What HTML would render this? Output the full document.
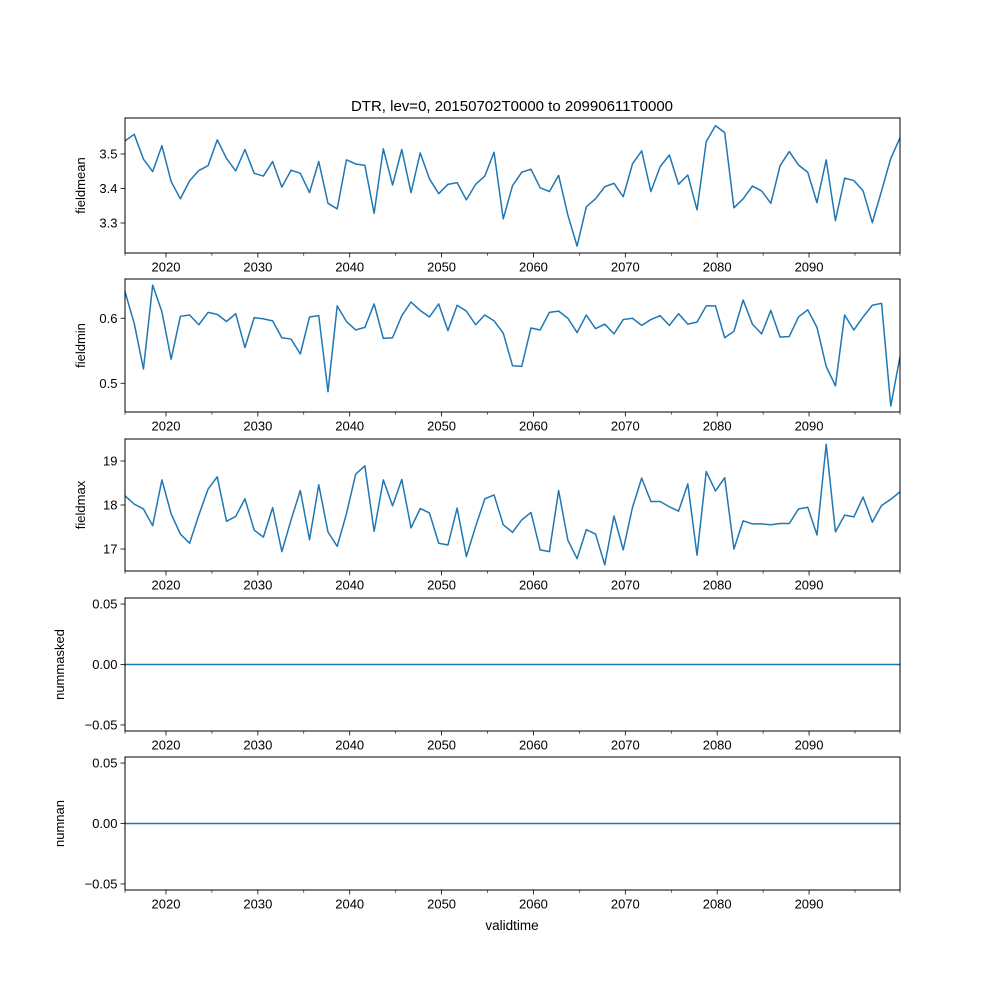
<!DOCTYPE html>
<html><head><meta charset="utf-8"><style>
body{margin:0;background:#fff}
svg text{font-family:"Liberation Sans","DejaVu Sans",sans-serif;font-size:13px;fill:#000}
</style></head><body>
<svg id="fig" width="1000" height="1000" xmlns="http://www.w3.org/2000/svg">
<rect width="1000" height="1000" fill="#fff"/>
<text x="512" y="111" text-anchor="middle" style="font-size:15px">DTR, lev=0, 20150702T0000 to 20990611T0000</text>
<text x="512" y="930" text-anchor="middle" style="font-size:13.5px">validtime</text>
</svg>
<script>
const fieldmean=[3.538,3.557,3.485,3.449,3.524,3.420,3.370,3.422,3.452,3.466,3.541,3.487,3.451,3.513,3.444,3.436,3.478,3.404,3.453,3.444,3.388,3.478,3.357,3.341,3.483,3.471,3.467,3.328,3.515,3.410,3.513,3.388,3.503,3.428,3.385,3.412,3.417,3.367,3.412,3.436,3.505,3.312,3.408,
3.447,3.456,3.402,3.391,3.438,3.323,3.233,3.347,3.370,3.405,3.415,3.376,3.471,3.509,3.391,3.463,3.497,3.412,3.439,3.338,3.536,3.582,3.562,3.344,3.370,3.407,3.393,3.357,3.466,3.507,3.468,3.447,3.359,3.483,3.307,3.430,3.423,3.393,3.301,3.393,3.487,3.547];
const fieldmin=[0.641,0.592,0.522,0.651,0.610,0.537,0.603,0.605,0.590,0.609,0.606,0.595,0.607,0.555,0.601,0.599,0.596,0.570,0.568,0.545,0.602,0.604,0.487,0.619,0.595,0.582,0.586,0.622,0.569,0.570,0.604,0.625,0.612,0.602,0.622,0.581,0.620,0.611,0.590,0.605,0.596,0.577,0.527,
0.526,0.585,0.582,0.609,0.611,0.600,0.578,0.605,0.584,0.591,0.576,0.598,0.600,0.589,0.598,0.604,0.589,0.607,0.591,0.594,0.619,0.619,0.570,0.580,0.628,0.591,0.576,0.612,0.571,0.572,0.602,0.613,0.586,0.526,0.496,0.605,0.582,0.602,0.620,0.623,0.465,0.541];
const fieldmax=[18.21,18.02,17.91,17.53,18.57,17.80,17.34,17.13,17.77,18.36,18.64,17.63,17.74,18.14,17.43,17.27,17.94,16.94,17.66,18.33,17.21,18.46,17.39,17.06,17.80,18.70,18.89,17.40,18.57,17.98,18.58,17.48,17.92,17.82,17.13,17.09,17.93,16.83,17.51,18.14,18.23,17.55,17.38,
17.66,17.83,16.98,16.94,18.33,17.20,16.78,17.44,17.34,16.64,17.75,16.98,17.94,18.61,18.08,18.08,17.96,17.86,18.48,16.86,18.76,18.32,18.62,17.00,17.64,17.57,17.57,17.55,17.58,17.58,17.91,17.95,17.32,19.38,17.39,17.77,17.73,18.18,17.61,17.99,18.13,18.30];
const nummasked=fieldmean.map(()=>0);
const numnan=fieldmean.map(()=>0);
const xTickYears=[2020,2030,2040,2050,2060,2070,2080,2090];
const minorTickYears=[2025,2035,2045,2055,2065,2075,2085,2095];
const meanTicks=[3.3,3.4,3.5];
const minTicks=[0.5,0.6];
const maxTicks=[17,18,19];
const zeroTicks=[-0.05,0,0.05];

const svg=document.getElementById('fig');
const NS='http://www.w3.org/2000/svg';
const L=125,R=900,X0=2015.54,X1=2099.9;
function xs(yr){return L+(yr-X0)/(X1-X0)*(R-L);}
function mk(tag,attrs){const e=document.createElementNS(NS,tag);for(const k in attrs)e.setAttribute(k,attrs[k]);svg.appendChild(e);return e;}
function panel(name,data,top,bot,ymin,ymax,ticks,fmt){
  const ys=v=>bot-(v-ymin)/(ymax-ymin)*(bot-top);
  const n=data.length;
  const pts=data.map((v,i)=>{const yr=X0+i*(X1-X0)/(n-1);return xs(yr).toFixed(2)+','+ys(v).toFixed(2);}).join(' ');
  const line=mk('polyline',{points:pts,fill:'none',stroke:'#1f77b4','stroke-width':1.5,'stroke-linejoin':'round'});
  
  
  const fr=mk('rect',{x:L,y:top,width:R-L,height:bot-top,fill:'none',stroke:'#000','stroke-width':1});
  
  
  ticks.forEach(t=>{
    const y=ys(t);
    mk('line',{x1:L-4.5,x2:L,y1:y,y2:y,stroke:'#000','stroke-width':0.8});
    const tx=mk('text',{x:L-7.5,y:y+4.5,'text-anchor':'end'});
    tx.textContent=fmt(t);
    
    
  });
  xTickYears.forEach(yr=>{
    const x=xs(yr);
    mk('line',{x1:x,x2:x,y1:bot,y2:bot+4.5,stroke:'#000','stroke-width':0.8});
    const tx=mk('text',{x:x,y:bot+18.5,'text-anchor':'middle'});
    tx.textContent=yr;
    
    
  });
  minorTickYears.concat([X0,X1]).forEach(yr=>{
    const x=Math.max(L,Math.min(R,xs(yr)));
    mk('line',{x1:x,x2:x,y1:bot,y2:bot+2.8,stroke:'#000','stroke-width':0.6});
  });
  const yl=mk('text',{x:0,y:0,'text-anchor':'middle',transform:'translate('+(name==='nummasked'||name==='numnan'?64:85)+','+((top+bot)/2)+') rotate(-90)'});
  yl.textContent=name;
  
  
}
panel('fieldmean',fieldmean,118,253,3.2130,3.6043,meanTicks,v=>v.toFixed(1));
panel('fieldmin',fieldmin,279,412,0.4558,0.6604,minTicks,v=>v.toFixed(1));
panel('fieldmax',fieldmax,439,571,16.5,19.5,maxTicks,v=>v.toFixed(0));
panel('nummasked',nummasked,598,731,-0.055,0.055,zeroTicks,v=>v.toFixed(2).replace('-','−'));
panel('numnan',numnan,757,890,-0.055,0.055,zeroTicks,v=>v.toFixed(2).replace('-','−'));
</script>
</body></html>
